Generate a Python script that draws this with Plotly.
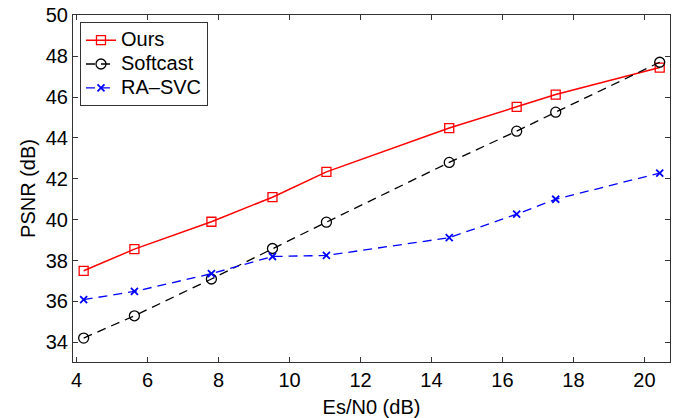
import plotly.graph_objects as go

snr = [4.2, 5.63, 7.8, 9.52, 11.04, 14.5, 16.4, 17.5, 20.43]
ours = [37.5, 38.56, 39.9, 41.1, 42.34, 44.48, 45.52, 46.12, 47.44]
softcast = [34.21, 35.3, 37.1, 38.59, 39.88, 42.8, 44.33, 45.26, 47.7]
rasvc = [36.09, 36.49, 37.36, 38.2, 38.25, 39.12, 40.27, 41.0, 42.28]
names = ["Ours", "Softcast", "RA\u2013SVC"]

FONT = "Liberation Sans, Arial, Helvetica, sans-serif"


def lg(t):
    return "<span style='font-size:20px'>" + t + "</span>"


fig = go.Figure()
fig.add_trace(go.Scatter(x=snr, y=ours, name=lg(names[0]), mode="lines+markers",
                         line=dict(color="#ff0000", width=1.5),
                         marker=dict(symbol="square-open", size=9, color="#ff0000", line=dict(width=1.3))))
fig.add_trace(go.Scatter(x=snr, y=softcast, name=lg(names[1]), mode="lines+markers",
                         line=dict(color="#000000", width=1.3, dash="9px,6px"),
                         marker=dict(symbol="circle-open", size=10, color="#000000", line=dict(width=1.3))))
fig.add_trace(go.Scatter(x=snr, y=rasvc, name=lg(names[2]), mode="lines+markers",
                         line=dict(color="#0000ff", width=1.3, dash="9px,6px"),
                         marker=dict(symbol="x-thin-open", size=7, color="#0000ff", line=dict(width=1.8, color="#0000ff"))))

axis_common = dict(showgrid=False, zeroline=False, showline=True, linecolor="#333333", linewidth=1.2,
                   mirror="ticks", ticks="inside", ticklen=5, tickcolor="#333333", tickwidth=1,
                   automargin=False, ticklabeloverflow="allow",
                   tickfont=dict(family=FONT, size=20, color="#000000"))

fig.update_layout(
    width=687, height=418,
    margin=dict(l=73, r=17, t=15, b=56, autoexpand=False),
    paper_bgcolor="white", plot_bgcolor="white",
    font=dict(family=FONT, size=20, color="#000000"),
    xaxis=dict(range=[3.9, 20.72], tickvals=[4, 6, 8, 10, 12, 14, 16, 18, 20],
               title=dict(text="Es/N0 (dB)", font=dict(family=FONT, size=20), standoff=9),
               **axis_common),
    yaxis=dict(range=[33.04, 50.01], tickvals=[34, 36, 38, 40, 42, 44, 46, 48, 50],
               title=dict(text="PSNR (dB)", font=dict(family=FONT, size=20), standoff=4),
               **axis_common),
    legend=dict(x=0.0117, y=0.979, xanchor="left", yanchor="top",
                bgcolor="white", bordercolor="#333333", borderwidth=1,
                font=dict(family=FONT, size=16), tracegroupgap=0,
                itemwidth=30),
    showlegend=True,
)

fig.write_html("out.html", config={"displayModeBar": False},
               post_script="document.body.style.margin='0px';")
